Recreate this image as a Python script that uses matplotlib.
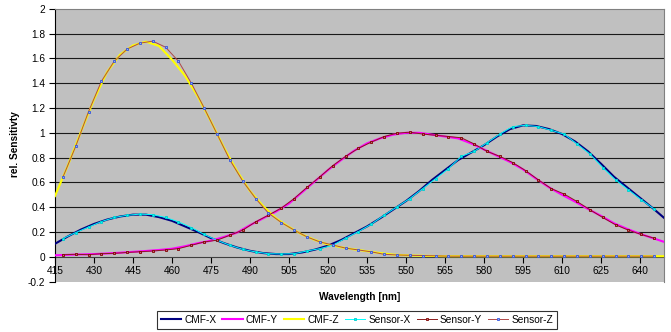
import matplotlib
matplotlib.use('Agg')
import matplotlib.pyplot as plt
import numpy as np

plt.rcParams['font.family'] = ['Liberation Sans', 'DejaVu Sans']

# colour matching functions, 5 nm grid
wl = np.arange(415, 651, 5)
cmf_x = [0.105, 0.165, 0.22, 0.265, 0.30, 0.325, 0.34, 0.34, 0.32, 0.29,
         0.245, 0.20, 0.15, 0.11, 0.075, 0.048, 0.03, 0.022, 0.022, 0.035,
         0.058, 0.09, 0.135, 0.19, 0.245, 0.31, 0.38, 0.45, 0.53, 0.62,
         0.70, 0.78, 0.84, 0.90, 0.97, 1.03, 1.06, 1.055, 1.03, 0.99,
         0.93, 0.85, 0.75, 0.645, 0.56, 0.475, 0.39, 0.30]
cmf_y = [0.012, 0.016, 0.019, 0.022, 0.027, 0.033, 0.04, 0.047, 0.055, 0.065,
         0.085, 0.11, 0.13, 0.16, 0.195, 0.255, 0.31, 0.365, 0.43, 0.52,
         0.61, 0.70, 0.78, 0.855, 0.915, 0.955, 0.985, 1.0, 1.0, 0.985,
         0.97, 0.955, 0.915, 0.865, 0.815, 0.765, 0.705, 0.63, 0.56, 0.50,
         0.445, 0.385, 0.33, 0.27, 0.225, 0.185, 0.15, 0.115]
cmf_z = [0.49, 0.74, 1.01, 1.27, 1.49, 1.63, 1.705, 1.735, 1.70, 1.59,
         1.46, 1.29, 1.09, 0.88, 0.69, 0.53, 0.41, 0.31, 0.24, 0.18,
         0.135, 0.10, 0.077, 0.06, 0.045, 0.03, 0.018, 0.012, 0.009, 0.007,
         0.005, 0.005, 0.005, 0.005, 0.005, 0.005, 0.005, 0.005, 0.005, 0.005,
         0.005, 0.005, 0.005, 0.005, 0.005, 0.005, 0.005, 0.005]

# sensor measurements
wl_s = np.linspace(418, 645.4, 47)
sens_x = [0.147, 0.195, 0.24, 0.284, 0.317, 0.335, 0.344, 0.34, 0.317, 0.282,
          0.236, 0.18, 0.133, 0.093, 0.06, 0.039, 0.025, 0.023, 0.025, 0.047,
          0.066, 0.093, 0.15, 0.203, 0.263, 0.336, 0.403, 0.47, 0.55, 0.63,
          0.71, 0.81, 0.85, 0.92, 0.99, 1.05, 1.06, 1.05, 1.02, 0.99,
          0.91, 0.83, 0.72, 0.62, 0.54, 0.46, 0.385]
sens_y = [0.017, 0.02, 0.017, 0.025, 0.028, 0.035, 0.041, 0.047, 0.055, 0.066,
          0.093, 0.12, 0.134, 0.174, 0.215, 0.282, 0.336, 0.393, 0.47, 0.56,
          0.645, 0.735, 0.81, 0.875, 0.925, 0.97, 0.997, 1.005, 0.99, 0.98,
          0.97, 0.96, 0.91, 0.85, 0.81, 0.76, 0.695, 0.62, 0.55, 0.506,
          0.446, 0.38, 0.317, 0.258, 0.215, 0.18, 0.15]
sens_z = [0.64, 0.89, 1.17, 1.415, 1.577, 1.675, 1.723, 1.739, 1.69, 1.577,
          1.40, 1.20, 0.99, 0.78, 0.61, 0.47, 0.352, 0.276, 0.215, 0.16,
          0.12, 0.095, 0.07, 0.055, 0.04, 0.02, 0.015, 0.012, 0.01, 0.008,
          0.005, 0.005, 0.005, 0.005, 0.005, 0.005, 0.005, 0.005, 0.005, 0.005,
          0.005, 0.005, 0.005, 0.005, 0.005, 0.005, 0.005]

xticks = np.arange(415, 641, 15)
yticks = np.round(np.arange(-0.2, 2.01, 0.2), 1)

fig = plt.figure(figsize=(6.71, 3.32), dpi=100)
ax = fig.add_axes([55 / 671, 1 - 281.6 / 332, 609 / 671, 272.8 / 332])
ax.set_facecolor('#C0C0C0')
ax.set_xlim(415, 649.2)
ax.set_ylim(-0.2, 2)

for v in yticks[2:-1]:
    ax.axhline(v, color='#1a1a1a', lw=0.8, zorder=1)

ax.plot(wl, cmf_x, color='#000080', lw=1.5, label='CMF-X', zorder=3)
ax.plot(wl, cmf_y, color='#FF00FF', lw=1.5, label='CMF-Y', zorder=3)
ax.plot(wl, cmf_z, color='#FFFF00', lw=1.5, label='CMF-Z', zorder=3)
ax.plot(wl_s, sens_x, color='#00FFFF', lw=0.7, marker='s', ms=2.0,
        mfc='#00FFFF', mec='#00CCCC', mew=0.6, label='Sensor-X', zorder=4)
ax.plot(wl_s, sens_y, color='#8B1A1A', lw=0.7, marker='s', ms=2.0,
        mfc='#C07070', mec='#800000', mew=0.6, label='Sensor-Y', zorder=4)
ax.plot(wl_s, sens_z, color='#B04848', lw=0.7, marker='s', ms=2.0,
        mfc='#8FA8FF', mec='#3355DD', mew=0.6, label='Sensor-Z', zorder=4)

for s in ['top', 'right']:
    ax.spines[s].set_color('#808080')
    ax.spines[s].set_linewidth(0.8)
ax.spines['left'].set_color('black')
ax.spines['left'].set_linewidth(0.8)
ax.spines['bottom'].set_position(('data', 0))
ax.spines['bottom'].set_color('#404040')
ax.spines['bottom'].set_linewidth(0.8)
ax.spines['bottom'].set_zorder(2)

ax.set_yticks(yticks)
ax.set_yticklabels([('%g' % v) for v in yticks])
ax.set_xticks(xticks)
ax.set_xticklabels([str(v) for v in xticks])
ax.tick_params(axis='y', direction='out', length=4, width=0.8, pad=3,
               labelsize=7.3, colors='black')
ax.tick_params(axis='x', direction='out', length=4, width=0.8, pad=2.5,
               labelsize=7.3, colors='black')

fig.text(15 / 671, 1 - 144 / 332, 'rel. Sensitivty', rotation=90,
         fontsize=7.3, fontweight='bold', ha='center', va='center')
fig.text(360 / 671, 1 - 297 / 332, 'Wavelength [nm]', fontsize=7.3,
         fontweight='bold', ha='center', va='center')

leg = fig.legend(loc='center', bbox_to_anchor=(357 / 671, 1 - 320 / 332),
                 ncol=6, fontsize=7.3, frameon=True, fancybox=False,
                 edgecolor='black', handlelength=2.0, handletextpad=0.3,
                 columnspacing=0.6, numpoints=1, borderpad=0.35,
                 borderaxespad=0)
leg.get_frame().set_linewidth(0.8)

fig.savefig('out.png', dpi=100)
